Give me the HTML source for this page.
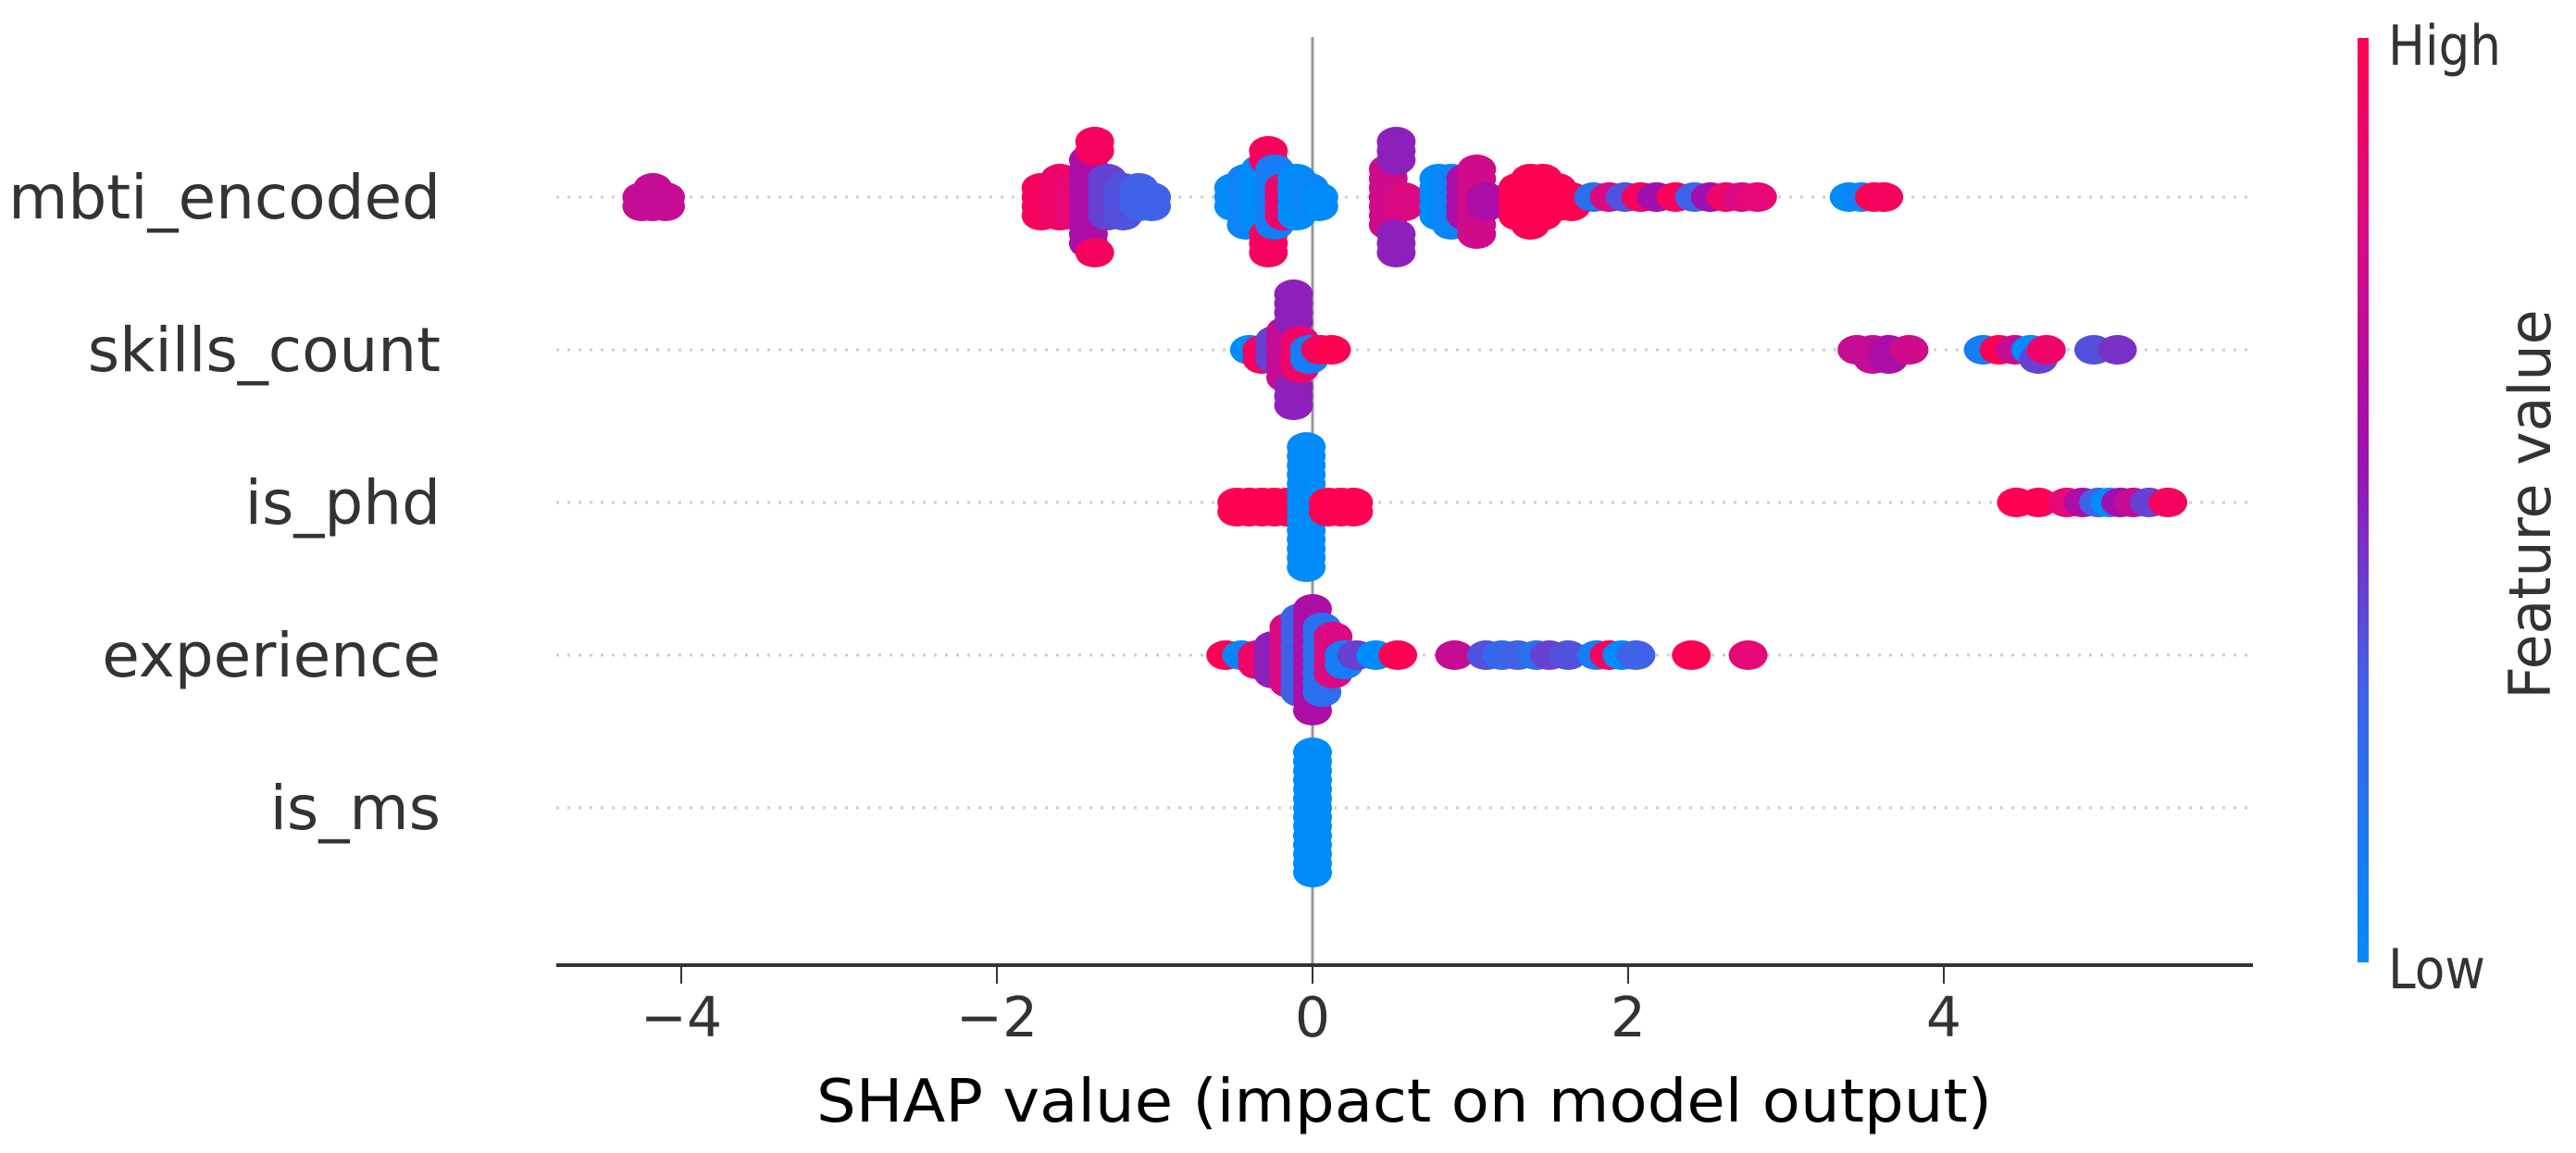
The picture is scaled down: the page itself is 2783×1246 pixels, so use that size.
<!DOCTYPE html>
<html><head><meta charset="utf-8">
<style>
html,body{margin:0;padding:0;background:#fff;}
svg{display:block;}
text{font-family:"DejaVu Sans","Liberation Sans",sans-serif;}
</style></head>
<body>
<svg id="chart" width="2783" height="1246" viewBox="0 0 2783 1246" xmlns="http://www.w3.org/2000/svg">
<defs>
<linearGradient id="cbgrad" x1="0" y1="1" x2="0" y2="0">
<stop offset="0" stop-color="#008bfb"/>
<stop offset="0.3" stop-color="#3f62e8"/>
<stop offset="0.55" stop-color="#a00fb0"/>
<stop offset="0.8" stop-color="#dc0a82"/>
<stop offset="1" stop-color="#ff0052"/>
</linearGradient>
</defs>
<g id="gridlines"></g>
<line x1="1418" y1="40" x2="1418" y2="1043" stroke="#999" stroke-width="3"/>
<g id="dots"></g>
<g id="labels"></g>
<line x1="601" y1="1043" x2="2434" y2="1043" stroke="#333" stroke-width="4"/>
<g id="xticks"></g>
<text x="1517" y="1212" font-size="64" fill="#000" text-anchor="middle" textLength="1270" lengthAdjust="spacingAndGlyphs">SHAP value (impact on model output)</text>
<rect x="2547" y="41" width="12" height="999" fill="url(#cbgrad)"/>
<text x="2580" y="70" font-size="60" fill="#333" textLength="122" lengthAdjust="spacingAndGlyphs">High</text>
<text x="2580" y="1068" font-size="60" fill="#333" textLength="105" lengthAdjust="spacingAndGlyphs">Low</text>
<text transform="translate(2755,545) rotate(-90)" font-size="62" fill="#333" text-anchor="middle" textLength="421" lengthAdjust="spacingAndGlyphs">Feature value</text>
</svg>
<script>
const features = ["mbti_encoded","skills_count","is_phd","experience","is_ms"];
const xTicks = [-4,-2,0,2,4];
const xTickLabels = ["\u22124","\u22122","0","2","4"];

const mbtiShap  = [-4.25,-4.18,-4.1,-1.72,-1.6,-1.5,-1.42,-1.38,-1.3,-1.2,-1.1,-1.02,-0.5,-0.42,-0.33,-0.28,-0.24,-0.18,-0.1,-0.02,0.04,0.48,0.53,0.58,0.8,0.88,0.97,1.04,1.1,1.3,1.38,1.46,1.55,1.64,1.78,1.88,1.98,2.08,2.18,2.3,2.42,2.52,2.62,2.72,2.82,3.4,3.48,3.56,3.62];
const mbtiCount = [2,3,2,4,5,4,10,3,5,4,3,2,3,6,7,5,7,4,5,3,2,7,6,2,5,6,5,8,2,4,6,5,3,2,1,1,1,1,1,1,1,1,1,1,1,1,1,1,1];
const mbtiColor = [.7,.7,.7,.95,.9,.85,.6,.95,.4,.35,.3,.3,0,.05,0,.95,.1,.9,0,.05,0,.75,.5,.8,0,.05,.6,.75,.6,1,1,1,1,1,.2,.8,.35,.95,.55,.95,.3,.55,.9,.8,.85,0,.05,1,.95];

const skillsShap  = [-0.4,-0.32,-0.24,-0.17,-0.12,-0.08,-0.02,0.05,0.12,3.45,3.55,3.65,3.78,4.25,4.35,4.45,4.55,4.6,4.65,4.95,5.1];
const skillsCount = [1,2,3,6,7,4,2,1,1,1,2,2,1,1,1,1,1,1,1,1,1];
const skillsColor = [0,.95,.4,.7,.5,.9,.1,.95,1,.7,.7,.6,.75,.1,1,.7,0,.4,.9,.35,.45];

const phdShap  = [-0.04,-0.48,-0.4,-0.32,-0.24,-0.16,0.1,0.18,0.26,4.46,4.6,4.78,4.88,4.98,5.05,5.12,5.2,5.3,5.42];
const phdCount = [14,2,2,2,2,2,2,2,2,1,1,1,1,1,1,1,1,1,1];
const phdColor = [0,1,1,1,1,1,1,1,1,1,1,.85,.6,.3,0,.55,.7,.4,.95];

const expShap  = [-0.55,-0.45,-0.35,-0.25,-0.15,-0.08,0.0,0.06,0.13,0.2,0.28,0.4,0.54,0.9,1.1,1.2,1.3,1.42,1.5,1.62,1.8,1.88,1.96,2.05,2.4,2.76];
const expCount = [1,1,2,4,7,9,12,8,5,2,1,1,1,1,1,1,1,1,1,1,1,1,1,1,1,1];
const expColor = [1,.05,.9,.5,.8,.3,.6,.2,.8,.1,.4,0,1,.7,.35,.25,.3,.2,.4,.35,.1,.95,0,.3,1,.85];

const msShap  = [0.0];
const msCount = [14];
const msColor = [0];

const rows = [
  [mbtiShap,mbtiCount,mbtiColor],
  [skillsShap,skillsCount,skillsColor],
  [phdShap,phdCount,phdColor],
  [expShap,expCount,expColor],
  [msShap,msCount,msColor]
];

const NS = "http://www.w3.org/2000/svg";
const X0 = 1418, PXU = 170.5;
const xScale = v => X0 + v * PXU;
const rowY = i => 213 + i * 165;

const stops = [[0,[0,139,251]],[0.3,[63,98,232]],[0.55,[160,15,176]],[0.8,[220,10,130]],[1,[255,0,82]]];
function colorOf(t){
  for(let k=1;k<stops.length;k++){
    if(t<=stops[k][0]){
      const a=stops[k-1],b=stops[k],f=(t-a[0])/(b[0]-a[0]);
      const c=a[1].map((v,j)=>Math.round(v+(b[1][j]-v)*f));
      return "rgb("+c.join(",")+")";
    }
  }
  return "rgb(255,0,82)";
}

const grid = document.getElementById("gridlines");
const labels = document.getElementById("labels");
const dots = document.getElementById("dots");
const xt = document.getElementById("xticks");

features.forEach((f,i)=>{
  const y = rowY(i);
  const ln = document.createElementNS(NS,"line");
  
  
  ln.setAttribute("x1",601); ln.setAttribute("x2",2434);
  ln.setAttribute("y1",y); ln.setAttribute("y2",y);
  ln.setAttribute("stroke","#ccc"); ln.setAttribute("stroke-width","3");
  ln.setAttribute("stroke-dasharray","3 9");
  grid.appendChild(ln);
  const t = document.createElementNS(NS,"text");
  
  
  t.setAttribute("x",476); t.setAttribute("y",y+23);
  t.setAttribute("text-anchor","end"); t.setAttribute("font-size","66"); t.setAttribute("fill","#333");
  t.textContent = f;
  labels.appendChild(t);
});

xTicks.forEach((v,i)=>{
  const x = xScale(v);
  const tk = document.createElementNS(NS,"line");
  
  
  tk.setAttribute("x1",x); tk.setAttribute("x2",x);
  tk.setAttribute("y1",1043); tk.setAttribute("y2",1063);
  tk.setAttribute("stroke","#333"); tk.setAttribute("stroke-width","2");
  xt.appendChild(tk);
  const t = document.createElementNS(NS,"text");
  
  
  t.setAttribute("x",x); t.setAttribute("y",1120);
  t.setAttribute("text-anchor","middle"); t.setAttribute("font-size","60"); t.setAttribute("fill","#333");
  t.textContent = xTickLabels[i];
  xt.appendChild(t);
});

const STEP = 10, DX = 9;
rows.forEach((r,i)=>{
  const [vals,counts,cols] = r;
  const pts = [];
  vals.forEach((v,j)=>{ for(let c=0;c<counts[j];c++) pts.push({x:xScale(v),col:cols[j]}); });
  pts.sort((a,b)=>a.x-b.x);
  const placed = [];
  pts.forEach(p=>{
    let k=0, off=0;
    while(true){
      off = (k===0)?0:(k%2===1? Math.ceil(k/2)*STEP : -Math.ceil(k/2)*STEP);
      const hit = placed.some(q=>Math.abs(q.x-p.x)<DX && q.off===off);
      if(!hit) break;
      k++;
    }
    p.off = off; placed.push(p);
  });
  const y0 = rowY(i);
  placed.forEach(p=>{
    const e = document.createElementNS(NS,"ellipse");
    
    
    e.setAttribute("cx",p.x.toFixed(1));
    e.setAttribute("cy",(y0+p.off).toFixed(1));
    e.setAttribute("rx",21); e.setAttribute("ry",16);
    e.setAttribute("fill",colorOf(p.col));
    dots.appendChild(e);
  });
});
</script>
</body></html>
